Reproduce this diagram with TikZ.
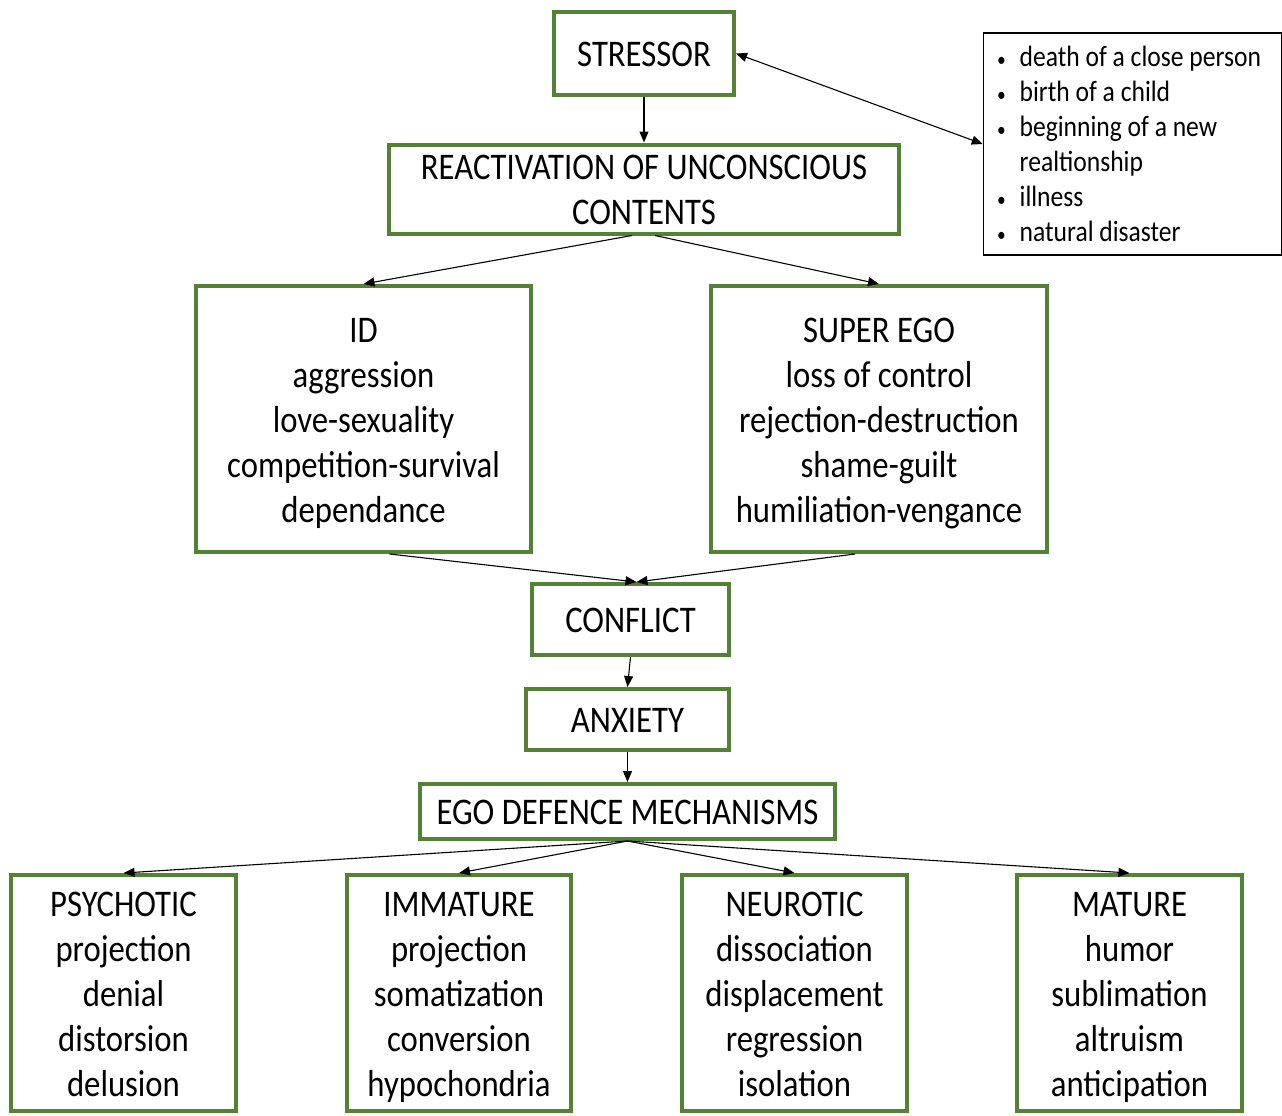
\documentclass[tikz,border=0pt]{standalone}
\usepackage{fontspec}
\setmainfont{Carlito}[FakeStretch=0.87]
\usetikzlibrary{arrows.meta}
\definecolor{boxgreen}{RGB}{84,130,53}
\newcommand\boxstrut{\rule[-9pt]{0pt}{44pt}}
\tikzset{
    box/.style={draw=boxgreen,line width=4pt,align=center,inner sep=0pt,
        font=\fontsize{37.6}{45}\selectfont,
        execute at begin node=\boxstrut, execute at end node=\boxstrut},
    arr/.style={-{Triangle[length=11pt,width=9pt]},line width=1.1pt},
}
\begin{document}
\begin{tikzpicture}[x=1pt,y=-1pt]
    \useasboundingbox (0,0) rectangle (1282,1116);

    % Top
    \node[box,minimum width=180,minimum height=83] (stressor) at (644,53.5) {STRESSOR};
    \node[box,minimum width=510,minimum height=84] (react) at (644,189)
        {\boxstrut REACTIVATION OF UNCONSCIOUS\\CONTENTS};

    % Life events
    \node[draw,line width=1.5pt,minimum width=298,minimum height=222] (events) at (1132.5,144) {};
    \node[inner sep=0pt,font=\fontsize{29.4}{35}\selectfont] (eventlist) at (1129,147) {%
        \begin{tabular}{@{}l@{\hspace{14pt}}l@{}}
        {\fontsize{20}{20}\selectfont\textbullet} & death of a close person\\
        {\fontsize{20}{20}\selectfont\textbullet} & birth of a child\\
        {\fontsize{20}{20}\selectfont\textbullet} & beginning of a new\\
                    & realtionship\\
        {\fontsize{20}{20}\selectfont\textbullet} & illness\\
        {\fontsize{20}{20}\selectfont\textbullet} & natural disaster
        \end{tabular}};

    % Id and super ego
    \node[box,minimum width=335,minimum height=266] (id) at (363.5,419)
        {\boxstrut ID\\aggression\\love-sexuality\\competition-survival\\dependance};
    \node[box,minimum width=336,minimum height=266] (superego) at (879,419)
        {\boxstrut SUPER EGO\\loss of control\\rejection-destruction\\shame-guilt\\humiliation-vengance};

    % Middle column
    \node[box,minimum width=197,minimum height=71] (conflict) at (630.5,619.5) {CONFLICT};
    \node[box,minimum width=203,minimum height=61] (anxiety) at (627.5,719.5) {ANXIETY};
    \node[box,minimum width=415,minimum height=55] (ego) at (627.5,811.5) {EGO DEFENCE MECHANISMS};

    % Defence mechanisms
    \node[box,minimum width=225,minimum height=236] (psychotic) at (123.5,993)
        {\boxstrut PSYCHOTIC\\projection\\denial\\distorsion\\delusion};
    \node[box,minimum width=224,minimum height=236] (immature) at (459,993)
        {\boxstrut IMMATURE\\projection\\somatization\\conversion\\hypochondria};
    \node[box,minimum width=225,minimum height=236] (neurotic) at (794.5,993)
        {\boxstrut NEUROTIC\\dissociation\\displacement\\regression\\isolation};
    \node[box,minimum width=225,minimum height=236] (mature) at (1129.5,993)
        {\boxstrut MATURE\\humor\\sublimation\\altruism\\anticipation};

    % Arrows
    \draw[arr] (stressor) -- (react);
    \draw[arr,{Triangle[length=11pt,width=9pt]}-{Triangle[length=11pt,width=9pt]}]
        (stressor.east) -- (events.west);
    \draw[arr] ([xshift=-12pt]react.south) -- (id.north);
    \draw[arr] ([xshift=11pt]react.south) -- (superego.north);
    \draw[arr] ([xshift=26pt]id.south) -- ([xshift=6pt]conflict.north);
    \draw[arr] ([xshift=-24pt]superego.south) -- ([xshift=6pt]conflict.north);
    \draw[arr] (conflict.south) -- (anxiety.north);
    \draw[arr] (anxiety) -- (ego);
    \foreach \n in {psychotic,immature,neurotic,mature}
        \draw[arr] (ego.south) -- (\n.north);
\end{tikzpicture}
\end{document}
